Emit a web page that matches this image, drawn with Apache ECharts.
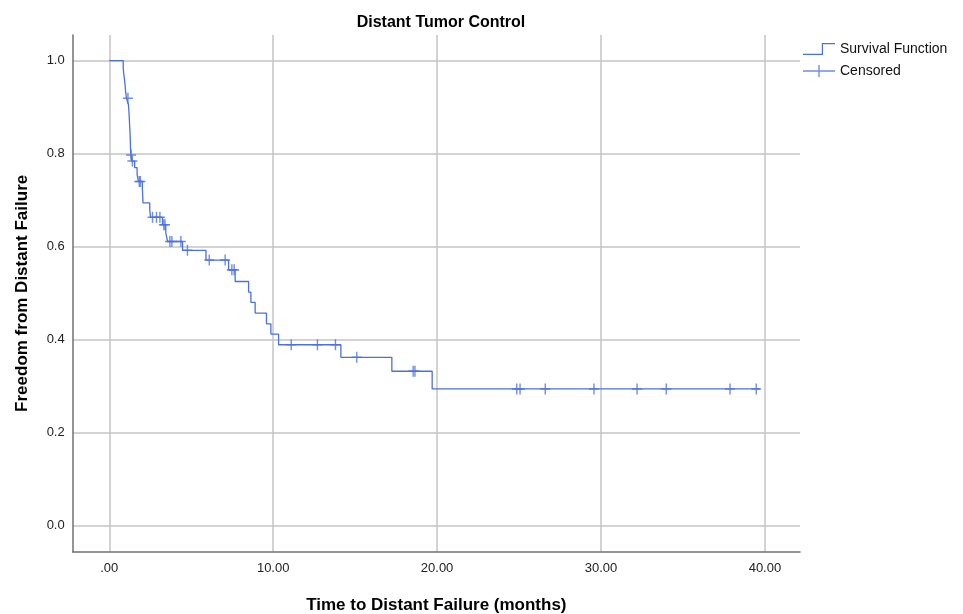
<!DOCTYPE html>
<html lang="en" style="height: 100%">
<head>
    <meta charset="utf-8">
    <title>Distant Tumor Control</title>
    <script src="https://cdn.jsdelivr.net/npm/echarts@6.0.0/dist/echarts.min.js"></script>
    <style>
        body {
            margin: 0;
            background: #fff;
        }
    </style>
</head>
<body>
<div id="main" style="width:963px;height:614px"></div>
<script type="text/javascript">
    // event times (months) and survival after each event
    var eventTimes = [0.85, 0.88, 0.93, 0.97, 1.00, 1.05, 1.17, 1.20, 1.22, 1.24, 1.26, 1.28, 1.29, 1.30, 1.32, 1.38,
        1.55, 1.70, 1.78, 2.02, 2.04, 2.06, 2.47, 2.52, 3.25, 3.45, 3.56, 4.47, 5.90, 7.28, 7.68, 8.50, 8.64,
        8.90, 9.59, 9.86, 10.33, 14.13, 17.24, 19.70];
    var survival = [0.986, 0.973, 0.959, 0.946, 0.932, 0.919, 0.905, 0.891, 0.877, 0.863, 0.849, 0.835, 0.822,
        0.808, 0.797, 0.784, 0.770, 0.755, 0.740, 0.725, 0.710, 0.694, 0.679, 0.663, 0.647, 0.629, 0.611, 0.592,
        0.571, 0.550, 0.525, 0.502, 0.480, 0.457, 0.434, 0.412, 0.389, 0.362, 0.332, 0.294];
    var censorTimes = [1.14, 1.33, 1.41, 1.83, 1.90, 2.64, 2.88, 3.09, 3.33, 3.40, 3.70, 3.82, 4.37, 4.77, 6.10,
        7.07, 7.48, 7.62, 11.10, 12.70, 13.80, 15.10, 18.54, 18.65, 24.86, 25.06, 26.60, 29.57, 32.20, 33.98,
        37.87, 39.47];
    var lastFollowUp = 39.7;

    var blue = '#4b70e0';
    var font = 'Liberation Sans, Arial, sans-serif';

    function survivalAt(t) {
        var s = 1;
        for (var i = 0; i < eventTimes.length; i++) {
            if (eventTimes[i] <= t) s = survival[i];
        }
        return s;
    }

    var curve = [[0, 1]];
    for (var i = 0; i < eventTimes.length; i++) {
        curve.push([eventTimes[i], survival[i]]);
    }
    curve.push([lastFollowUp, survival[survival.length - 1]]);

    var censored = censorTimes.map(function (t) {
        return [t, survivalAt(t)];
    });

    var plusPath = 'path://M0,4.3H10V5.7H0Z M4.3,0H5.7V10H4.3Z';
    var stepIcon = 'path://M0,10.8H18.8V0H32V1.2H20V12H0Z';
    var plusIcon = 'path://M0,5.3H32V6.7H0Z M15.3,0H16.7V12H15.3Z';

    var myChart = echarts.init(document.getElementById('main'), null, {renderer: 'canvas'});
    var option = {
        animation: false,
        textStyle: {fontFamily: font},
        title: {
            text: 'Distant Tumor Control',
            left: 436,
            top: 10,
            textAlign: 'center',
            textStyle: {fontSize: 16, fontWeight: 'bold', color: '#000', fontFamily: font}
        },
        legend: {
            orient: 'vertical',
            left: 803,
            top: 42,
            padding: 0,
            itemWidth: 32,
            itemHeight: 12,
            itemGap: 8,
            textStyle: {fontSize: 14, color: '#111', fontFamily: font},
            data: [
                {name: 'Survival Function', icon: stepIcon},
                {name: 'Censored', icon: plusIcon}
            ]
        },
        grid: {left: 72.7, right: 163, top: 35, bottom: 62.3, containLabel: false, outerBoundsMode: 'none'},
        xAxis: {
            type: 'value',
            min: -2.23,
            max: 42.14,
            splitNumber: 5,
            name: 'Time to Distant Failure (months)',
            nameLocation: 'middle',
            nameGap: 45,
            nameTextStyle: {fontSize: 17, fontWeight: 'bold', color: '#000', fontFamily: font},
            axisLine: {onZero: false, lineStyle: {color: '#707070', width: 1.5}},
            axisTick: {show: false},
            axisLabel: {
                margin: 10,
                fontSize: 13,
                color: '#222',
                showMinLabel: false,
                showMaxLabel: false,
                formatter: function (v) {
                    return v === 0 ? '.00' : v.toFixed(2);
                }
            },
            splitLine: {show: true, showMinLine: false, showMaxLine: false, lineStyle: {color: '#c4c4c4', width: 1.5}}
        },
        yAxis: {
            type: 'value',
            min: -0.056,
            max: 1.055,
            splitNumber: 5,
            name: 'Freedom from Distant Failure',
            nameLocation: 'middle',
            nameGap: 42,
            nameTextStyle: {fontSize: 17, fontWeight: 'bold', color: '#000', fontFamily: font},
            axisLine: {show: true, onZero: false, lineStyle: {color: '#707070', width: 1.5}},
            axisTick: {show: false},
            axisLabel: {
                margin: 8,
                fontSize: 13,
                color: '#222',
                showMinLabel: false,
                showMaxLabel: false,
                formatter: function (v) {
                    return v.toFixed(1);
                }
            },
            splitLine: {show: true, showMinLine: false, showMaxLine: false, lineStyle: {color: '#c4c4c4', width: 1.5}}
        },
        series: [
            {
                name: 'Survival Function',
                type: 'line',
                step: 'end',
                symbol: 'none',
                data: curve,
                color: blue,
                itemStyle: {color: blue},
                lineStyle: {color: blue, width: 1.3},
                z: 3
            },
            {
                name: 'Censored',
                type: 'scatter',
                symbol: plusPath,
                symbolSize: [10, 11],
                data: censored,
                color: blue,
                itemStyle: {color: blue},
                z: 4
            }
        ]
    };
    myChart.setOption(option);
</script>
</body>
</html>
